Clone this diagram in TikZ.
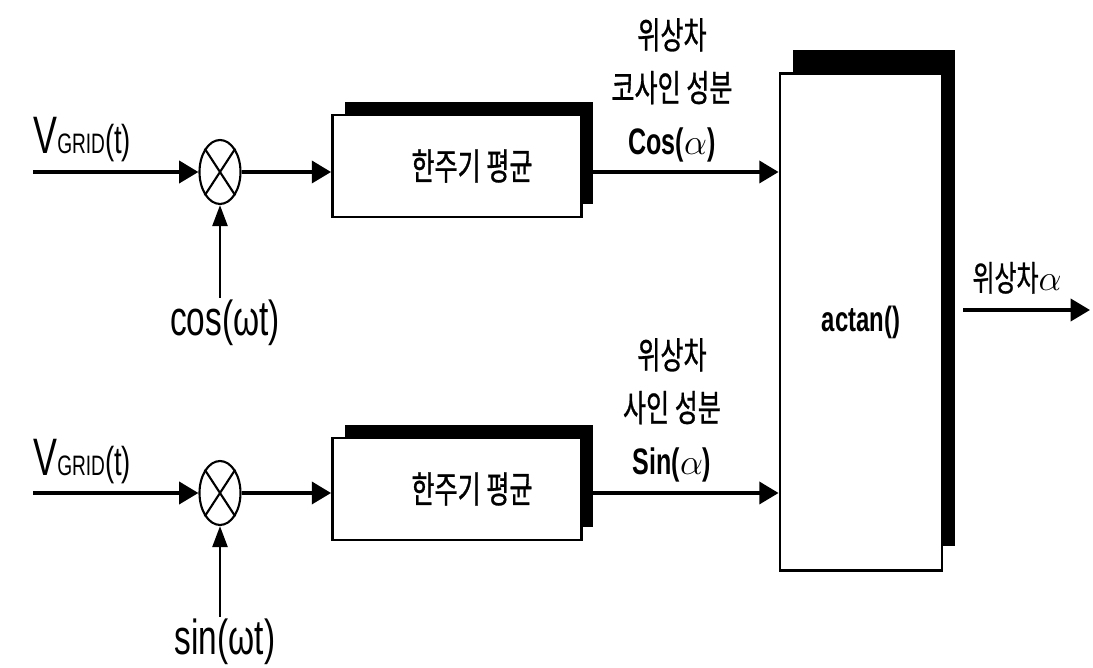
\documentclass[tikz,border=0pt]{standalone}
\usepackage{fontspec}
\setmainfont[FakeStretch=0.68]{Liberation Sans}
\newfontfamily\kr[FakeStretch=0.68, FakeBold=0.8]{Noto Sans CJK KR}
\usetikzlibrary{arrows.meta, positioning, shapes.geometric, shadows}

\newcommand{\vgrid}{{\fontsize{30pt}{30pt}\selectfont V}{\fontsize{16pt}{17pt}\selectfont GRID}{\fontsize{23pt}{24pt}\selectfont (t)}}

\begin{document}
\begin{tikzpicture}[
  x=0.02cm, y=-0.02cm,
  mixer/.style={
    ellipse, draw, line width=1.2pt, fill=white,
    minimum width=8.2mm, minimum height=12.8mm, inner sep=0pt
  },
  avgbox/.style={
    rectangle, draw, line width=1.6pt, fill=white,
    minimum width=49.8mm, minimum height=20.4mm,
    font=\kr\fontsize{21pt}{24pt}\selectfont,
    general shadow={fill=black, shadow xshift=2.4mm, shadow yshift=2.6mm}
  },
  atanbox/.style={
    rectangle, draw, line width=1.6pt, fill=white,
    minimum width=32.4mm, minimum height=99.4mm,
    font=\bfseries\fontsize{20pt}{22pt}\selectfont,
    general shadow={fill=black, shadow xshift=2.6mm, shadow yshift=4.8mm}
  },
  sig/.style={font=\fontsize{28pt}{30pt}\selectfont, inner sep=1pt},
  lbl/.style={align=center, font=\fontsize{21pt}{30pt}\selectfont},
  flow/.style={-{Triangle[length=11pt, width=12.5pt]}, line width=2.2pt},
  feed/.style={-{Triangle[length=12pt, width=8.5pt]}, line width=1.6pt},
]
\useasboundingbox (0,0) rectangle (1093,668);

% --- Blocks ----------------------------------------------------------------
\node[mixer]   (mixA)  at (220,172) {};
\node[mixer]   (mixB)  at (220,493) {};
\node[avgbox]  (avgA)  at (457,166) {\hspace*{6mm}한주기 평균};
\node[avgbox]  (avgB)  at (457,489) {\hspace*{6mm}한주기 평균};
\node[atanbox] (actan) at (861,322) {actan()};

\foreach \m in {mixA, mixB}
  \draw[line width=1.2pt] (\m.north west) -- (\m.south east)
                          (\m.north east) -- (\m.south west);

% --- Inputs ----------------------------------------------------------------
\coordinate (inA) at (33,172);
\coordinate (inB) at (33,493);
\node[anchor=base west, inner sep=0pt] (vgA) at (33,154) {\vgrid};
\node[anchor=base west, inner sep=0pt] (vgB) at (33,476) {\vgrid};
\node[sig, anchor=north] (cosA) at (225,298) {cos(ωt)};
\node[sig, anchor=north] (sinB) at (225,617) {sin(ωt)};

% --- Arrows ----------------------------------------------------------------
\foreach \i/\m/\a in {inA/mixA/avgA, inB/mixB/avgB} {
  \draw[flow] (\i) -- (\m);
  \draw[flow] (\m) -- (\m -| \a.west);
  \draw[flow] (\m -| \a.east) -- (\m -| actan.west);
}
\draw[feed] (cosA.north -| mixA) -- (mixA.south);
\draw[feed] (sinB.north -| mixB) -- (mixB.south);

\coordinate (outC) at (1090,310);
\draw[flow, shorten <=4mm] (actan.east |- outC) -- (outC);

% --- Labels ----------------------------------------------------------------
\node[lbl] (cosLbl) at (672,90)  {{\kr 위상차}\\{\kr 코사인 성분}\\\textbf{Cos($\alpha$)}};
\node[lbl] (sinLbl) at (672,410) {{\kr 위상차}\\{\kr 사인 성분}\\\textbf{Sin($\alpha$)}};
\node[anchor=base, font=\kr\fontsize{20pt}{22pt}\selectfont] (outLbl) at (1017,291) {위상차$\alpha$};

\end{tikzpicture}
\end{document}
